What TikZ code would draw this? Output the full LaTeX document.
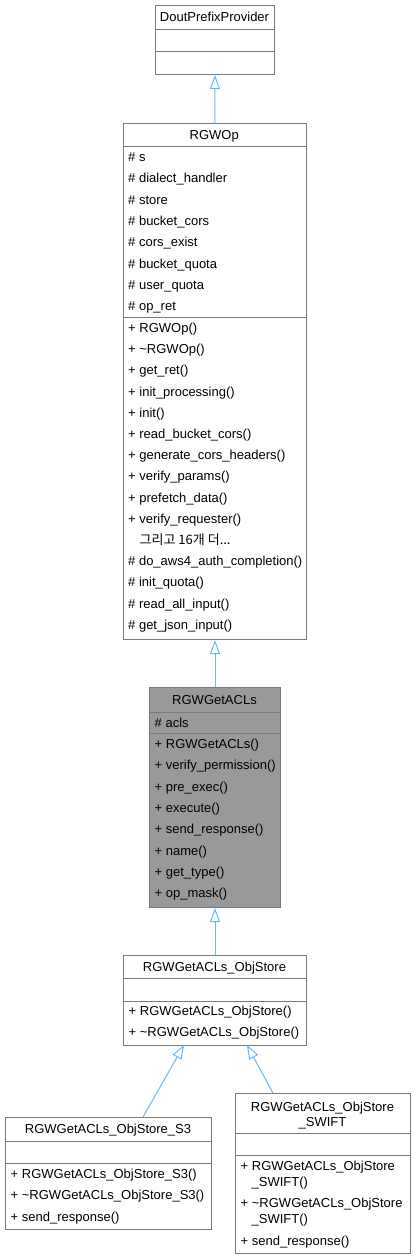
\documentclass[tikz,border=0pt]{standalone}
\usepackage{fontspec}
\setmainfont{Liberation Sans}
\newfontfamily\krfont{Noto Sans CJK KR}
\usetikzlibrary{arrows.meta}
\definecolor{edgeblue}{HTML}{63B8FF}
\definecolor{boxgray}{HTML}{7A7A7A}
\definecolor{hlfill}{HTML}{999999}
\tikzset{
  cls/.style={draw=boxgray, line width=1pt, fill=white, inner sep=0pt, anchor=north west},
  hl/.style={cls, fill=hlfill},
  txt/.style={anchor=base west, inner sep=0pt, font=\fontsize{13}{15}\selectfont},
  ttl/.style={anchor=base, inner sep=0pt, font=\fontsize{13}{15}\selectfont},
  sepline/.style={draw=boxgray, line width=1pt},
  inh/.style={draw=edgeblue, line width=1pt, -{Triangle[open, length=14pt, width=10pt]}},
}
\begin{document}
\begin{tikzpicture}[x=1pt,y=-1pt]
\useasboundingbox (0,0) rectangle (415,1259);
% ---------- DoutPrefixProvider
\node[cls, minimum width=119pt, minimum height=69pt] (dout) at (155,5) {};
\draw[sepline] (155,29) -- (274,29);
\draw[sepline] (155,51) -- (274,51);
\node[ttl] (doutT) at (214.5,21.5) {DoutPrefixProvider};
% ---------- RGWOp
\node[cls, minimum width=183.5pt, minimum height=516pt] (rgwop) at (122.5,123) {};
\draw[sepline] (122.5,146) -- (306,146);
\draw[sepline] (122.5,317) -- (306,317);
\node[ttl] (opT) at (214.25,139) {RGWOp};
\foreach \t [count=\i from 0] in {\# s, \# dialect\_handler, \# store, \# bucket\_cors, \# cors\_exist, \# bucket\_quota, \# user\_quota, \# op\_ret}
  \node[txt] (opa\i) at (128,161.5+21.3*\i) {\t};
\foreach \t [count=\i from 0] in {+ RGWOp(), + \textasciitilde RGWOp(), + get\_ret(), + init\_processing(), + init(), + read\_bucket\_cors(), + generate\_cors\_headers(), + verify\_params(), + prefetch\_data(), + verify\_requester()}
  \node[txt] (opm\i) at (128,332.5+21.2*\i) {\t};
\node[txt] (opm10) at (139.5,332.5+21.2*10) {\krfont 그리고 16개 더...};
\foreach \t [count=\i from 11] in {\# do\_aws4\_auth\_completion(), \# init\_quota(), \# read\_all\_input(), \# get\_json\_input()}
  \node[txt] (opm\i) at (128,332.5+21.2*\i) {\t};
% ---------- RGWGetACLs
\node[hl, minimum width=131pt, minimum height=220pt] (getacls) at (149,687) {};
\draw[sepline] (149,712) -- (280,712);
\draw[sepline] (149,733) -- (280,733);
\node[ttl] (gaT) at (214.5,704) {RGWGetACLs};
\node[txt] (gaa0) at (154.5,727.5) {\# acls};
\foreach \t [count=\i from 0] in {+ RGWGetACLs(), + verify\_permission(), + pre\_exec(), + execute(), + send\_response(), + name(), + get\_type(), + op\_mask()}
  \node[txt] (gam\i) at (154.5,748.5+21.3*\i) {\t};
% ---------- RGWGetACLs_ObjStore
\node[cls, minimum width=183pt, minimum height=90pt] (objstore) at (123,955) {};
\draw[sepline] (123,978) -- (306,978);
\draw[sepline] (123,1001) -- (306,1001);
\node[ttl] (osT) at (214.5,971) {RGWGetACLs\_ObjStore};
\node[txt] (osm0) at (128.5,1015.5) {+ RGWGetACLs\_ObjStore()};
\node[txt] (osm1) at (128.5,1036.5) {+ \textasciitilde RGWGetACLs\_ObjStore()};
% ---------- RGWGetACLs_ObjStore_S3
\node[cls, minimum width=206pt, minimum height=112pt] (s3) at (5,1117) {};
\draw[sepline] (5,1141) -- (211,1141);
\draw[sepline] (5,1163) -- (211,1163);
\node[ttl] (s3T) at (108,1133.5) {RGWGetACLs\_ObjStore\_S3};
\node[txt] (s3m0) at (10.5,1178.5) {+ RGWGetACLs\_ObjStore\_S3()};
\node[txt] (s3m1) at (10.5,1199.5) {+ \textasciitilde RGWGetACLs\_ObjStore\_S3()};
\node[txt] (s3m2) at (10.5,1221.5) {+ send\_response()};
% ---------- RGWGetACLs_ObjStore_SWIFT
\node[cls, minimum width=175pt, minimum height=160pt] (swift) at (235,1093) {};
\draw[sepline] (235,1133) -- (410,1133);
\draw[sepline] (235,1155) -- (410,1155);
\node[ttl] (swT1) at (322.5,1111.5) {RGWGetACLs\_ObjStore};
\node[ttl] (swT2) at (322.5,1126.5) {\_SWIFT};
\node[txt] (swm0) at (240.5,1170.5) {+ RGWGetACLs\_ObjStore};
\node[txt] (swm0b) at (251.5,1186.5) {\_SWIFT()};
\node[txt] (swm1) at (240.5,1207.5) {+ \textasciitilde RGWGetACLs\_ObjStore};
\node[txt] (swm1b) at (251.5,1223.5) {\_SWIFT()};
\node[txt] (swm2) at (240.5,1245.5) {+ send\_response()};
% ---------- inheritance connectors
\coordinate (osS3) at (184,1045);
\coordinate (osSW) at (247,1045);
\coordinate (s3top) at (143,1117);
\coordinate (swtop) at (273,1093);
\draw[inh] (rgwop.north) -- (dout.south);
\draw[inh] (getacls.north) -- (getacls.north |- rgwop.south);
\draw[inh] (objstore.north -| getacls.south) -- (getacls.south);
\draw[inh] (s3top) -- (osS3);
\draw[inh] (swtop) -- (osSW);
\end{tikzpicture}
\end{document}
